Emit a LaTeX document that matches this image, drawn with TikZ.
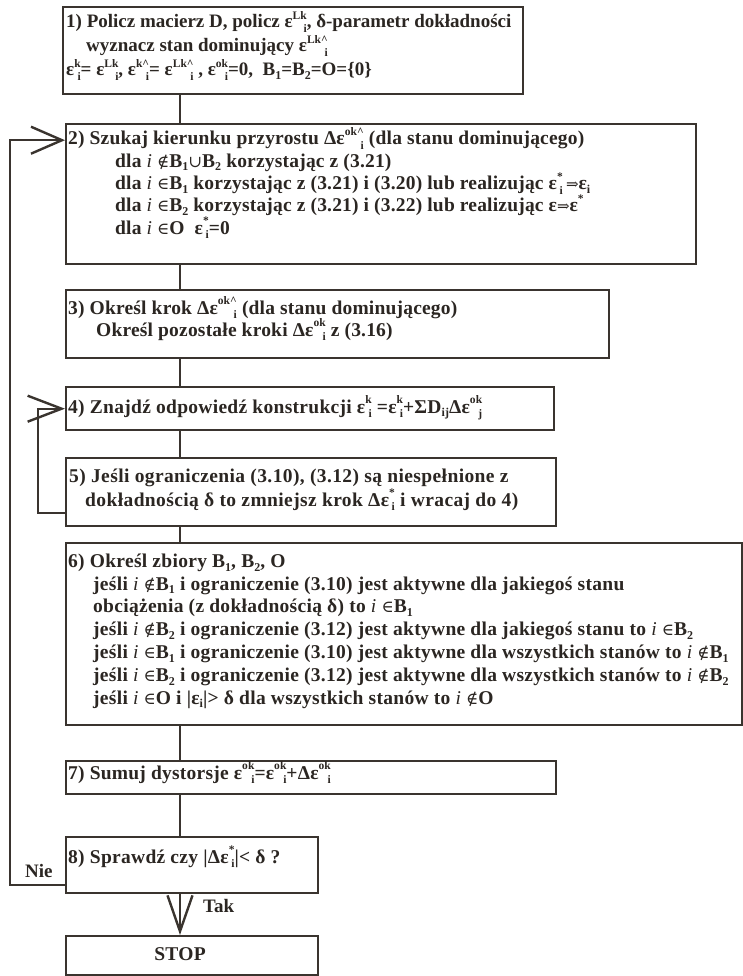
\documentclass[tikz,border=0pt]{standalone}
\usepackage{fontspec}
\setmainfont{Liberation Serif}
\newfontfamily\symf{DejaVu Serif}
\usetikzlibrary{arrows.meta}
\definecolor{ink}{HTML}{3A342F}
\definecolor{txt}{HTML}{2B2622}
\newsavebox\supbx
\newsavebox\subbx
\newcommand\sx[2]{\sbox\supbx{\fontsize{11.5}{11.5}\selectfont #1}\sbox\subbx{\fontsize{11.5}{11.5}\selectfont #2}%
  \ifdim\wd\supbx>\wd\subbx
    \rlap{\raisebox{0.47em}{\usebox\supbx}}\makebox[\wd\supbx][r]{\raisebox{-0.24em}{\usebox\subbx}}%
  \else
    \rlap{\raisebox{0.47em}{\usebox\supbx}}\raisebox{-0.24em}{\usebox\subbx}%
  \fi}
\newcommand\sbs[1]{\raisebox{-0.2em}{\fontsize{12}{12}\selectfont #1}}
\newcommand\sps[1]{\raisebox{0.45em}{\fontsize{11.5}{11.5}\selectfont #1}}
\newcommand\myi{{\mdseries\itshape i}}
\newcommand\nin{{\symf\mdseries\fontsize{16.5}{16.5}\selectfont ∉}}
\newcommand\isin{{\symf\mdseries\fontsize{16.5}{16.5}\selectfont ∈}}
\newcommand\uni{{\symf\mdseries\fontsize{16.5}{16.5}\selectfont ∪}}
\newcommand\imp{{\symf\mdseries\fontsize{15}{15}\selectfont ⇒}}
\newcommand\crt{\textasciicircum}
\newcommand\fs[2]{\bfseries\fontsize{#1}{#2}\selectfont\lineskiplimit=-30pt\relax}
\newcommand\ls[1]{\addfontfeatures{LetterSpace=#1}}
\begin{document}
\begin{tikzpicture}[x=1pt,y=-1pt,
  box/.style={draw=ink, line width=2.4pt, rectangle, inner sep=0pt, anchor=north west},
  tx/.style={anchor=base west, inner sep=0pt, align=left, text=txt},
  conn/.style={draw=ink, line width=2.4pt},
  barbA/.style={-{Straight Barb[length=31pt,width=27pt,line width=2.4pt]}},
  barbB/.style={-{Straight Barb[length=34pt,width=26pt,line width=2.4pt]}},
  barbC/.style={-{Straight Barb[length=36pt,width=25pt,line width=2.4pt]}},
  lbl/.style={anchor=base west, inner sep=0pt, text=txt, font=\fs{19}{20}}]
\fill[white] (0,0) rectangle (743,976);
\useasboundingbox (0,0) rectangle (743,976);
% boxes
\node[box, minimum width=460pt, minimum height=87pt] (b1) at (62,6) {};
\node[box, minimum width=630pt, minimum height=140pt] (b2) at (65,123) {};
\node[box, minimum width=543pt, minimum height=68pt] (b3) at (65,289) {};
\node[box, minimum width=488pt, minimum height=43pt] (b4) at (65,386) {};
\node[box, minimum width=490pt, minimum height=68pt] (b5) at (65,457) {};
\node[box, minimum width=676pt, minimum height=182pt] (b6) at (65,542) {};
\node[box, minimum width=490pt, minimum height=33pt] (b7) at (65,760) {};
\node[box, minimum width=252pt, minimum height=56pt] (b8) at (65,836) {};
\node[box, minimum width=252pt, minimum height=39pt] (stop) at (65,935) {};
% texts (anchor = baseline of last line)
\node[tx, font=\fs{19}{24}] (t1) at (66,76) {1) Policz macierz D, policz ε\sx{Lk}{i}, δ-parametr dokładności\\
\hspace*{20pt}wyznacz stan dominujący ε\sx{Lk\crt}{i}\\
ε\sx{k}{i}= ε\sx{Lk}{i}, ε\sx{k\crt}{i}= ε\sx{Lk\crt}{i} , ε\sx{ok}{i}=0,\ \ B\sbs{1}=B\sbs{2}=O=\{0\}};
\node[tx, font={\fs{19.5}{22.3}\ls{1}}] (t2) at (68,234) {2) Szukaj kierunku przyrostu Δε\sx{ok\crt}{i} (dla stanu dominującego)\\
\hspace*{47pt}dla \myi\ \nin B\sbs{1}\uni B\sbs{2} korzystając z (3.21)\\
\hspace*{47pt}dla \myi\ \isin B\sbs{1} korzystając z (3.21) i (3.20) lub realizując ε\sx{*}{i}\,\imp ε\sbs{i}\\
\hspace*{47pt}dla \myi\ \isin B\sbs{2} korzystając z (3.21) i (3.22) lub realizując ε\imp ε\sps{*}\\
\hspace*{47pt}dla \myi\ \isin O\ \ ε\sx{*}{i}=0};
\node[tx, font={\fs{19.5}{22}\ls{1}}] (t3) at (68,336) {3) Określ krok Δε\sx{ok\crt}{i} (dla stanu dominującego)\\
\hspace*{28pt}Określ pozostałe kroki Δε\sx{ok}{i} z (3.16)};
\node[tx, font={\fs{19.5}{22}\ls{1.5}}] (t4) at (68,413) {4) Znajdź odpowiedź konstrukcji ε\sx{k}{i} =ε\sx{k}{i}+ΣD\sbs{ij}Δε\sx{ok}{j}};
\node[tx, font={\fs{19.5}{24}\ls{2}}] (t5) at (69,506) {5) Jeśli ograniczenia (3.10), (3.12) są niespełnione z\\
\hspace*{16pt}dokładnością δ to zmniejsz krok Δε\sx{*}{i} i wracaj do 4)};
\node[tx, font={\fs{19.5}{22.8}\ls{1.5}}] (t6) at (68,704) {6) Określ zbiory B\sbs{1}, B\sbs{2}, O\\
\hspace*{25pt}jeśli \myi\ \nin B\sbs{1} i ograniczenie (3.10) jest aktywne dla jakiegoś stanu\\
\hspace*{25pt}obciążenia (z dokładnością δ) to \myi\ \isin B\sbs{1}\\
\hspace*{25pt}jeśli \myi\ \nin B\sbs{2} i ograniczenie (3.12) jest aktywne dla jakiegoś stanu to \myi\ \isin B\sbs{2}\\
\hspace*{25pt}jeśli \myi\ \isin B\sbs{1} i ograniczenie (3.10) jest aktywne dla wszystkich stanów to \myi\ \nin B\sbs{1}\\
\hspace*{25pt}jeśli \myi\ \isin B\sbs{2} i ograniczenie (3.12) jest aktywne dla wszystkich stanów to \myi\ \nin B\sbs{2}\\
\hspace*{25pt}jeśli \myi\ \isin O i |ε\sbs{i}|> δ dla wszystkich stanów to \myi\ \nin O};
\node[tx, font={\fs{19.5}{20}\ls{1.2}}] (t7) at (68,779) {7) Sumuj dystorsje ε\sx{ok}{i}=ε\sx{ok}{i}+Δε\sx{ok}{i}};
\node[tx, font={\fs{19.5}{20}\ls{1.5}}] (t8) at (68,863) {8) Sprawdź czy |Δε\sx{*}{i}|< δ ?};
\node[anchor=base, inner sep=0pt, text=txt, font={\fs{19.5}{20}\ls{1.5}}] (ts) at (180,960) {STOP};
% connectors
\coordinate (cx) at (180,0);
\draw[conn] (b1.south -| cx) -- (b2.north -| cx);
\draw[conn] (b2.south -| cx) -- (b3.north -| cx);
\draw[conn] (b3.south -| cx) -- (b4.north -| cx);
\draw[conn] (b4.south -| cx) -- (b5.north -| cx);
\draw[conn] (b5.south -| cx) -- (b6.north -| cx);
\draw[conn] (b6.south -| cx) -- (b7.north -| cx);
\draw[conn] (b7.south -| cx) -- (b8.north -| cx);
\draw[conn, barbC] (b8.south -| cx) -- (stop.north -| cx);
% outer loop
\coordinate (lp) at (10,0);
\coordinate (a8) at ([yshift=-20pt]b8.west);
\coordinate (a2) at ([yshift=54pt]b2.west);
\draw[conn, barbA] (a8) -| (lp |- a2) -- (a2);
% inner loop
\coordinate (il) at (38,0);
\coordinate (a5) at ([yshift=-21pt]b5.west);
\draw[conn, barbB] (a5) -| (il |- b4.west) -- (b4.west);
% labels
\node[lbl] (nie) at (25,877) {Nie};
\node[lbl] (tak) at (203,912) {Tak};
\end{tikzpicture}
\end{document}
